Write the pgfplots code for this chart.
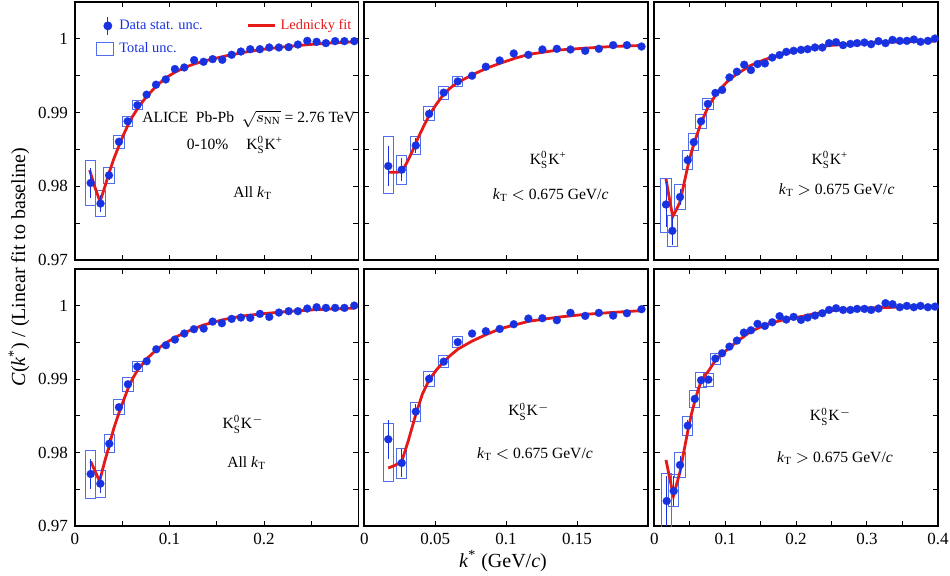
\documentclass[border=0pt]{standalone}
\usepackage{fontspec}
\setmainfont{Liberation Serif}
\usepackage{amsmath}
\usepackage{pgfplots}
\usepackage{pgfplotstable}
\pgfplotsset{compat=1.18}

\definecolor{dotblue}{RGB}{25,50,225}
\definecolor{boxblue}{RGB}{80,110,235}
\definecolor{fitred}{RGB}{230,25,25}

\newcommand{\boxbar}[2]{%
  \path #1 coordinate (ebA); \path #2 coordinate (ebB);
  \draw[boxblue, line width=0.5pt] ([xshift=-2.6pt]ebA) -- ([xshift=-2.6pt]ebB) -- ([xshift=2.6pt]ebB) -- ([xshift=2.6pt]ebA);}
\newcommand{\KKp}{K$^{\text{0}}_{\text{S}}$K$^{\text{+}}$}
\newcommand{\KKm}{K$^{\text{0}}_{\text{S}}$K$^{-}$}
\newcommand{\kT}{\textit{k}\textsubscript{T}}

% ---------------- top left: K0S K+, all kT
\pgfplotstableread{
k c e
0.0166 0.98045 0.0020
0.0270 0.97766 0.0012
0.0360 0.98149 0.0007
0.0465 0.98604 0.0004
0.0557 0.98882 0.0003
0.0660 0.99100 0.0003
0.0758 0.99243 0.0002
0.0857 0.99378 0.0002
0.0960 0.99450 0.0002
0.1057 0.99591 0.0002
0.1156 0.99612 0.0002
0.1260 0.99712 0.0002
0.1360 0.99689 0.0002
0.1456 0.99725 0.0002
0.1558 0.99716 0.0002
0.1657 0.99784 0.0002
0.1755 0.99828 0.0002
0.1854 0.99860 0.0001
0.1956 0.99860 0.0001
0.2055 0.99883 0.0001
0.2157 0.99883 0.0001
0.2260 0.99888 0.0001
0.2358 0.99923 0.0001
0.2457 0.99973 0.0001
0.2556 0.99960 0.0001
0.2654 0.99942 0.0001
0.2752 0.99969 0.0001
0.2850 0.99969 0.0001
0.2954 0.99969 0.0001
}\TLd
\pgfplotstableread{
k c s
0.0166 0.98047 0.00304
0.0270 0.97766 0.00180
0.0360 0.98149 0.00110
0.0465 0.98604 0.00090
0.0557 0.98882 0.00068
0.0660 0.99100 0.00060
}\TLs
\pgfplotstableread{
k f
0.0155 0.9822
0.0210 0.9799
0.0265 0.9779
0.0310 0.9797
0.0360 0.9818
0.0410 0.9837
0.0465 0.9855
0.0510 0.9869
0.0557 0.9882
0.0610 0.9895
0.0660 0.9905
0.0710 0.9914
0.0760 0.9922
0.0860 0.9936
0.0960 0.9947
0.1060 0.9955
0.1160 0.9961
0.1260 0.9966
0.1400 0.9971
0.1600 0.9977
0.1800 0.9982
0.2000 0.9986
0.2200 0.9989
0.2450 0.9992
0.2700 0.99945
0.2955 0.9996
}\TLf

% ---------------- top middle: K0S K+, kT < 0.675
\pgfplotstableread{
k c e
0.0169 0.98274 0.0027
0.0264 0.98225 0.0016
0.0363 0.98554 0.0010
0.0457 0.98982 0.0006
0.0560 0.99270 0.0004
0.0659 0.99423 0.0003
0.0760 0.99500 0.0002
0.0857 0.99622 0.0002
0.0955 0.99707 0.0002
0.1054 0.99802 0.0002
0.1157 0.99784 0.0002
0.1256 0.99856 0.0001
0.1358 0.99865 0.0001
0.1454 0.99856 0.0001
0.1558 0.99838 0.0001
0.1654 0.99865 0.0001
0.1755 0.99915 0.0001
0.1852 0.99915 0.0001
0.1955 0.99896 0.0001
}\TMd
\pgfplotstableread{
k c s
0.0169 0.98288 0.00387
0.0264 0.98225 0.00194
0.0363 0.98554 0.00117
0.0457 0.98982 0.00095
0.0560 0.99270 0.00088
0.0659 0.99423 0.00070
}\TMs
\pgfplotstableread{
k f
0.0169 0.9819
0.0230 0.9819
0.0264 0.9820
0.0300 0.9832
0.0340 0.9848
0.0380 0.9866
0.0420 0.9882
0.0457 0.9896
0.0500 0.9909
0.0560 0.9925
0.0610 0.9934
0.0660 0.9941
0.0760 0.9951
0.0860 0.9960
0.0960 0.9967
0.1060 0.99735
0.1160 0.9979
0.1360 0.99847
0.1560 0.99874
0.1760 0.99898
0.1955 0.99910
}\TMf

% ---------------- top right: K0S K+, kT > 0.675
\pgfplotstableread{
k c e
0.0165 0.97753 0.0030
0.0255 0.97396 0.0019
0.0363 0.97855 0.0011
0.0472 0.98355 0.0007
0.0557 0.98599 0.0005
0.0660 0.98882 0.0004
0.0755 0.99117 0.0003
0.0862 0.99266 0.0002
0.0957 0.99307 0.0002
0.1060 0.99477 0.0002
0.1165 0.99554 0.0002
0.1268 0.99649 0.0002
0.1363 0.99577 0.0002
0.1456 0.99658 0.0002
0.1560 0.99667 0.0002
0.1664 0.99747 0.0002
0.1767 0.99780 0.0002
0.1862 0.99824 0.0001
0.1965 0.99838 0.0001
0.2069 0.99851 0.0001
0.2163 0.99860 0.0001
0.2267 0.99883 0.0001
0.2370 0.99883 0.0001
0.2465 0.99942 0.0001
0.2564 0.99955 0.0001
0.2663 0.99915 0.0001
0.2766 0.99932 0.0001
0.2861 0.99942 0.0001
0.2964 0.99950 0.0001
0.3058 0.99928 0.0001
0.3162 0.99969 0.0001
0.3261 0.99942 0.0001
0.3360 0.99986 0.0001
0.3463 0.99973 0.0001
0.3562 0.99973 0.0001
0.3661 0.99991 0.0001
0.3755 0.99960 0.0001
0.3859 0.99973 0.0001
0.3958 1.00004 0.0001
}\TRd
\pgfplotstableread{
k c s
0.0165 0.97740 0.00372
0.0255 0.97394 0.00214
0.0363 0.97855 0.00169
0.0472 0.98355 0.00128
0.0557 0.98599 0.00117
0.0660 0.98882 0.00095
0.0755 0.99117 0.00074
}\TRs
\pgfplotstableread{
k f
0.0165 0.9810
0.0210 0.9785
0.0260 0.9759
0.0310 0.9768
0.0363 0.9779
0.0420 0.9804
0.0472 0.9827
0.0520 0.9845
0.0570 0.9861
0.0620 0.9875
0.0660 0.9886
0.0760 0.9908
0.0860 0.9923
0.0960 0.9935
0.1060 0.9945
0.1160 0.9952
0.1260 0.9958
0.1360 0.9964
0.1560 0.9972
0.1760 0.9978
0.1960 0.9983
0.2160 0.9987
0.2460 0.9991
0.2760 0.99930
0.3060 0.99945
0.3460 0.99960
0.3960 0.99970
}\TRf

% ---------------- bottom left: K0S K-, all kT
\pgfplotstableread{
k c e
0.0166 0.97709 0.0020
0.0268 0.97577 0.0013
0.0363 0.98122 0.0008
0.0465 0.98619 0.0005
0.0560 0.98932 0.0004
0.0659 0.99173 0.0003
0.0758 0.99246 0.0002
0.0860 0.99409 0.0002
0.0962 0.99464 0.0002
0.1057 0.99541 0.0002
0.1156 0.99623 0.0002
0.1258 0.99682 0.0002
0.1361 0.99691 0.0002
0.1456 0.99786 0.0002
0.1554 0.99764 0.0002
0.1657 0.99823 0.0001
0.1755 0.99841 0.0001
0.1854 0.99837 0.0001
0.1956 0.99891 0.0001
0.2055 0.99850 0.0001
0.2157 0.99909 0.0001
0.2260 0.99928 0.0001
0.2358 0.99928 0.0001
0.2457 0.99964 0.0001
0.2556 0.99982 0.0001
0.2654 0.99973 0.0001
0.2752 0.99973 0.0001
0.2850 0.99973 0.0001
0.2954 1.00004 0.0001
}\BLd
\pgfplotstableread{
k c s
0.0166 0.97700 0.00323
0.0268 0.97573 0.00182
0.0363 0.98122 0.00125
0.0465 0.98619 0.00100
0.0560 0.98932 0.00095
0.0659 0.99173 0.00073
}\BLs
\pgfplotstableread{
k f
0.0166 0.9788
0.0215 0.9774
0.0260 0.9761
0.0310 0.9786
0.0363 0.9810
0.0410 0.9833
0.0465 0.9854
0.0510 0.9870
0.0560 0.9887
0.0610 0.9901
0.0660 0.9912
0.0760 0.9928
0.0860 0.9940
0.0960 0.99495
0.1060 0.9957
0.1160 0.99635
0.1260 0.9969
0.1360 0.9974
0.1560 0.9981
0.1760 0.9986
0.1960 0.9989
0.2260 0.99925
0.2560 0.9995
0.2955 0.9997
}\BLf

% ---------------- bottom middle: K0S K-, kT < 0.675
\pgfplotstableread{
k c e
0.0169 0.98182 0.00266
0.0264 0.97859 0.0019
0.0363 0.98559 0.0010
0.0457 0.99005 0.0006
0.0560 0.99240 0.0004
0.0659 0.99505 0.0003
0.0760 0.99623 0.0002
0.0857 0.99655 0.0002
0.0955 0.99686 0.0002
0.1054 0.99750 0.0002
0.1157 0.99827 0.0002
0.1256 0.99832 0.0001
0.1358 0.99805 0.0001
0.1454 0.99905 0.0001
0.1558 0.99864 0.0001
0.1654 0.99905 0.0001
0.1755 0.99868 0.0001
0.1852 0.99900 0.0001
0.1955 0.99955 0.0001
}\BMd
\pgfplotstableread{
k c s
0.0169 0.98000 0.00400
0.0264 0.97855 0.00205
0.0363 0.98559 0.00130
0.0457 0.99005 0.00100
0.0560 0.99240 0.00084
0.0659 0.99505 0.00075
}\BMs
\pgfplotstableread{
k f
0.0169 0.9779
0.0220 0.9783
0.0264 0.9788
0.0310 0.9816
0.0363 0.9852
0.0410 0.9880
0.0457 0.9899
0.0510 0.9913
0.0560 0.9924
0.0610 0.9933
0.0660 0.9941
0.0760 0.9952
0.0860 0.9961
0.0960 0.9969
0.1060 0.9974
0.1160 0.9979
0.1360 0.99845
0.1560 0.99885
0.1760 0.99912
0.1955 0.99935
}\BMf

% ---------------- bottom right: K0S K-, kT > 0.675
\pgfplotstableread{
k c e
0.0175 0.97341 0.0034
0.0274 0.97477 0.0020
0.0363 0.97832 0.0012
0.0472 0.98368 0.0008
0.0571 0.98732 0.0006
0.0660 0.98987 0.0005
0.0763 0.98995 0.0004
0.0862 0.99282 0.0003
0.0957 0.99355 0.0002
0.1060 0.99445 0.0002
0.1165 0.99527 0.0002
0.1264 0.99636 0.0002
0.1363 0.99668 0.0002
0.1456 0.99755 0.0002
0.1560 0.99727 0.0002
0.1664 0.99777 0.0002
0.1767 0.99860 0.0002
0.1862 0.99814 0.0001
0.1965 0.99850 0.0001
0.2069 0.99809 0.0001
0.2163 0.99841 0.0001
0.2267 0.99868 0.0001
0.2370 0.99900 0.0001
0.2465 0.99945 0.0001
0.2564 0.99968 0.0001
0.2663 0.99945 0.0001
0.2766 0.99945 0.0001
0.2861 0.99959 0.0001
0.2964 0.99959 0.0001
0.3058 0.99945 0.0001
0.3162 0.99964 0.0001
0.3261 1.00037 0.0001
0.3360 1.00023 0.0001
0.3463 0.99982 0.0001
0.3562 1.00000 0.0001
0.3661 0.99982 0.0001
0.3755 1.00000 0.0001
0.3859 0.99982 0.0001
0.3958 0.99990 0.0001
}\BRd
\pgfplotstableread{
k c s
0.0175 0.97341 0.00370
0.0274 0.97480 0.00216
0.0363 0.97832 0.00170
0.0472 0.98368 0.00130
0.0571 0.98732 0.00118
0.0660 0.98987 0.00100
0.0763 0.98995 0.00090
0.0862 0.99282 0.00075
}\BRs
\pgfplotstableread{
k f
0.0165 0.9790
0.0220 0.9764
0.0270 0.9741
0.0315 0.9757
0.0363 0.9774
0.0420 0.9803
0.0472 0.9829
0.0520 0.9851
0.0571 0.9870
0.0620 0.9886
0.0660 0.9897
0.0710 0.9905
0.0763 0.9911
0.0862 0.9926
0.0960 0.9935
0.1060 0.9943
0.1160 0.9951
0.1360 0.9965
0.1560 0.9974
0.1820 0.9981
0.2100 0.9986
0.2480 0.99935
0.3000 0.9997
0.3500 0.99985
0.3980 0.9999
}\BRf

\pgfplotsset{
  panel/.style={
    scale only axis, width=141.8pt,
    xmin=0, ymin=0.97, ymax=1.005,
    ytick={0.97,0.98,0.99,1}, minor ytick={0.975,0.985,0.995},
    tick align=inside,
    major tick length=2.6pt, minor tick length=2.6pt,
    tick style={black, line width=0.5pt},
    axis line style={black, line width=0.85pt},
    tick label style={font=\fontsize{8.5}{10}\selectfont},
    scaled ticks=false,
    xticklabel style={/pgf/number format/fixed, /pgf/number format/precision=3},
    yticklabel style={/pgf/number format/fixed, /pgf/number format/precision=3},
    /pgf/number format/assume math mode=true,
    anchor=south west,
  },
  toprow/.style={height=129pt, xticklabels={}},
  botrow/.style={height=128.4pt},
  col1/.style={xmax=0.3, xtick={0,0.1,0.2}, minor xtick={0.05,0.15,0.25}},
  col2/.style={xmax=0.2, xtick={0,0.05,0.1,0.15}, yticklabels={}},
  col3/.style={xmax=0.4, xtick={0,0.1,0.2,0.3,0.4}, minor xtick={0.05,0.15,0.25,0.35}, yticklabels={}},
  boxbars/.style={draw=none, mark=none, forget plot,
    error bars/.cd, y dir=both, y explicit,
    draw error bar/.code 2 args={\boxbar{##1}{##2}}},
  fitline/.style={fitred, line width=1.4pt, mark=none, forget plot},
  datapts/.style={only marks, mark=*, mark size=2pt, color=dotblue,
    mark options={fill=dotblue, draw=dotblue, line width=0.1pt}, forget plot,
    error bars/.cd, y dir=both, y explicit, error mark=none,
    error bar style={dotblue, line width=0.5pt}},
}

\begin{document}
\begin{tikzpicture}
\path[use as bounding box] (0,0) rectangle (475pt,287.5pt);

% ===== top row
\begin{axis}[panel, toprow, col1, at={(37.5pt,157.5pt)},
  legend columns=2, legend cell align=left,
  legend style={at={(0.07,0.95)}, anchor=north west, draw=none, fill=none,
    font=\fontsize{7.2}{8.6}\selectfont, inner sep=0pt, row sep=1pt,
    /tikz/every even column/.append style={column sep=20pt}}]
\addlegendimage{legend image code/.code={\path[draw=none, fill=none] (0pt,-4.5pt) rectangle (10pt,4.5pt);
  \draw[dotblue, line width=0.5pt] (6.3pt,-4.5pt) -- (6.3pt,4.5pt);
  \fill[dotblue] (6.3pt,0pt) circle (2pt);}}
\addlegendentry{\textcolor{dotblue}{Data stat. unc.}}
\addlegendimage{legend image code/.code={\draw[fitred, line width=1.4pt] (0pt,0pt) -- (13.5pt,0pt);}}
\addlegendentry{\textcolor{fitred}{Lednicky fit}}
\addlegendimage{legend image code/.code={\path[draw=none, fill=none] (0pt,-4.5pt) rectangle (10pt,4.5pt);
  \draw[boxblue, line width=0.6pt] (0.8pt,-3.1pt) rectangle (9pt,3.1pt);}}
\addlegendentry{\textcolor{dotblue}{Total unc.}}
\addplot[boxbars] table[x=k, y=c, y error=s] {\TLs};
\addplot[fitline] table[x=k, y=f] {\TLf};
\addplot[datapts] table[x=k, y=c, y error=e] {\TLd};
\end{axis}

\begin{axis}[panel, toprow, col2, at={(182.15pt,157.5pt)}]
\addplot[boxbars] table[x=k, y=c, y error=s] {\TMs};
\addplot[fitline] table[x=k, y=f] {\TMf};
\addplot[datapts] table[x=k, y=c, y error=e] {\TMd};
\end{axis}

\begin{axis}[panel, toprow, col3, at={(327.15pt,157.5pt)}]
\addplot[boxbars] table[x=k, y=c, y error=s] {\TRs};
\addplot[fitline] table[x=k, y=f] {\TRf};
\addplot[datapts] table[x=k, y=c, y error=e] {\TRd};
\end{axis}

% ===== bottom row
\begin{axis}[panel, botrow, col1, at={(37.5pt,24.5pt)}]
\addplot[boxbars] table[x=k, y=c, y error=s] {\BLs};
\addplot[fitline] table[x=k, y=f] {\BLf};
\addplot[datapts] table[x=k, y=c, y error=e] {\BLd};
\end{axis}

\begin{axis}[panel, botrow, col2, at={(182.15pt,24.5pt)}]
\addplot[boxbars] table[x=k, y=c, y error=s] {\BMs};
\addplot[fitline] table[x=k, y=f] {\BMf};
\addplot[datapts] table[x=k, y=c, y error=e] {\BMd};
\end{axis}

\begin{axis}[panel, botrow, col3, at={(327.15pt,24.5pt)}]
\addplot[boxbars] table[x=k, y=c, y error=s] {\BRs};
\addplot[fitline] table[x=k, y=f] {\BRf};
\addplot[datapts] table[x=k, y=c, y error=e] {\BRd};
\end{axis}

% ===== annotations
\begin{scope}[every node/.style={font=\fontsize{7.8}{9}\selectfont, inner sep=0pt}]
\node at (124.35pt,228pt) {ALICE\ \ Pb-Pb\ \ $\sqrt{s_{\text{NN}}}$ = 2.76 TeV};
\node at (117.5pt,215pt) {0-10\%\hspace{7pt} \KKp};
\node at (126.35pt,191pt) {All \kT};
\node at (274.15pt,207.5pt) {\KKp};
\node at (275.35pt,190pt) {\kT{} $<$ 0.675 GeV/\textit{c}};
\node at (415pt,207.5pt) {\KKp};
\node at (418.35pt,192.5pt) {\kT{} $>$ 0.675 GeV/\textit{c}};
\node at (121.65pt,75.35pt) {\KKm};
\node at (123.35pt,55.85pt) {All \kT};
\node at (264.5pt,81.65pt) {\KKm};
\node at (267.5pt,60.5pt) {\kT{} $<$ 0.675 GeV/\textit{c}};
\node at (415.35pt,79.15pt) {\KKm};
\node at (417.5pt,58.35pt) {\kT{} $>$ 0.675 GeV/\textit{c}};
\end{scope}
\node[rotate=90, font=\fontsize{10}{12}\selectfont, inner sep=0pt] at (9.5pt,154pt)
  {\textit{C}(\textit{k}\textsuperscript{*}) / (Linear fit to baseline)};
\node[font=\fontsize{10}{12}\selectfont, inner sep=0pt] at (251.5pt,7pt)
  {\textit{k}\textsuperscript{*} (GeV/\textit{c})};
\end{tikzpicture}
\end{document}
